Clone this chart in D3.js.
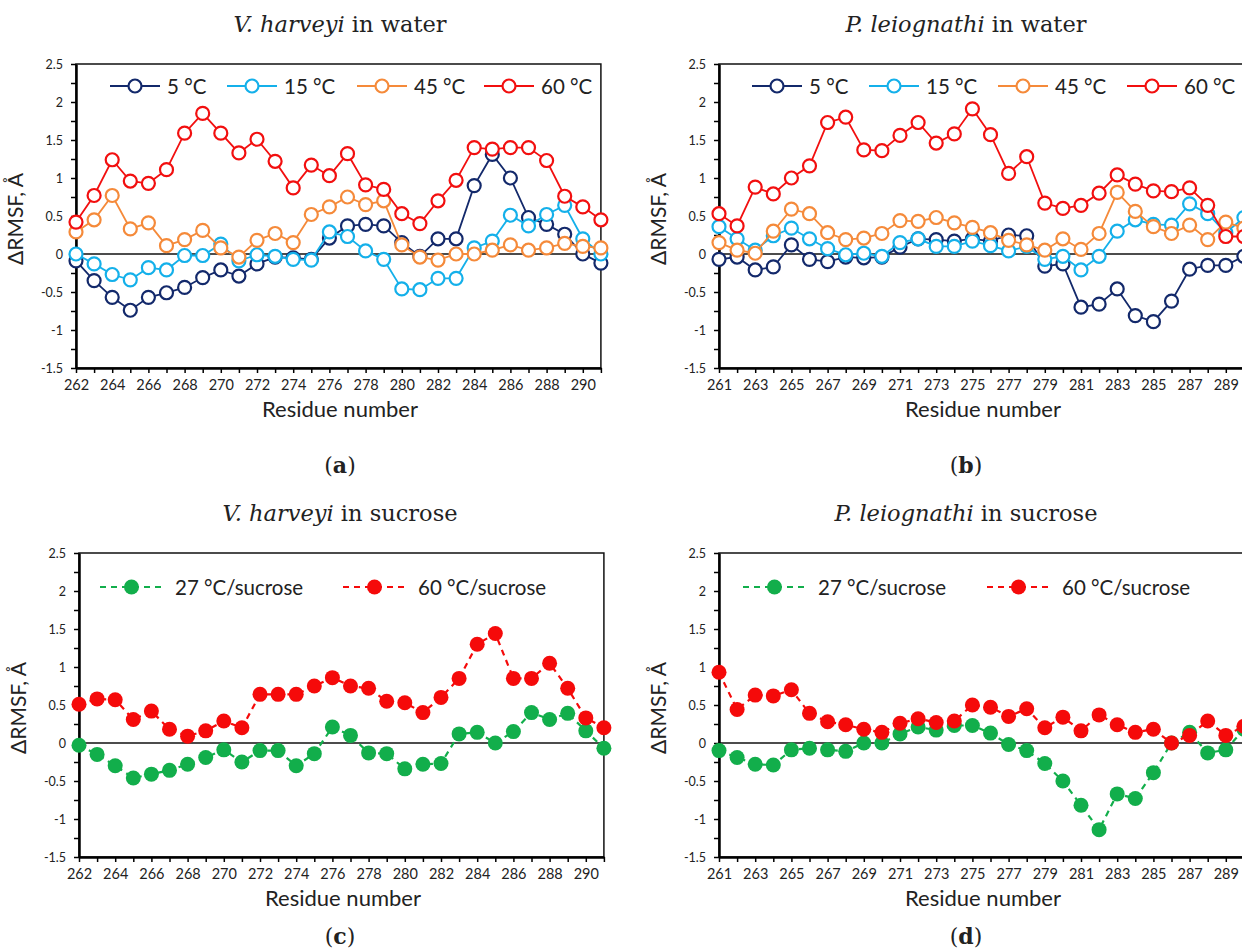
<!DOCTYPE html>
<html lang="en">
<head>
<meta charset="UTF-8" />
<title>ΔRMSF panels</title>
<style>
  body { margin: 0; background: #fff; }
  svg { display: block; }
  .sans { font-family: Lato, "Noto Sans", sans-serif; fill: #222; }
  .serif { font-family: "DejaVu Serif", "Liberation Serif", serif; fill: #222; }
</style>
</head>
<body>
<svg id="chart" width="1242" height="952"></svg>
<script src="https://d3js.org/d3.v7.min.js"></script>
<script>
  // residue numbers
  const residuesVh = [262,263,264,265,266,267,268,269,270,271,272,273,274,275,276,277,278,279,280,281,282,283,284,285,286,287,288,289,290,291];
  const residuesPl = [261,262,263,264,265,266,267,268,269,270,271,272,273,274,275,276,277,278,279,280,281,282,283,284,285,286,287,288,289,290];

  // (a) V. harveyi in water
  const vhWater5  = [-0.09,-0.35,-0.57,-0.74,-0.57,-0.51,-0.44,-0.31,-0.21,-0.29,-0.13,-0.04,-0.05,-0.07,0.21,0.37,0.39,0.37,0.15,-0.03,0.20,0.20,0.90,1.31,1.00,0.48,0.39,0.26,0.00,-0.12];
  const vhWater15 = [0.00,-0.13,-0.27,-0.34,-0.18,-0.21,-0.02,-0.02,0.13,-0.09,-0.01,-0.03,-0.07,-0.08,0.29,0.23,0.04,-0.07,-0.46,-0.47,-0.32,-0.32,0.08,0.17,0.51,0.37,0.52,0.64,0.20,0.00];
  const vhWater45 = [0.29,0.45,0.77,0.33,0.41,0.11,0.19,0.31,0.08,-0.04,0.18,0.27,0.15,0.52,0.62,0.75,0.65,0.70,0.12,-0.04,-0.08,0.00,0.00,0.05,0.12,0.05,0.08,0.14,0.10,0.08];
  const vhWater60 = [0.42,0.77,1.24,0.96,0.93,1.11,1.59,1.85,1.59,1.33,1.51,1.22,0.87,1.17,1.03,1.32,0.91,0.85,0.53,0.40,0.70,0.97,1.40,1.38,1.40,1.40,1.23,0.76,0.62,0.45];

  // (b) P. leiognathi in water
  const plWater5  = [-0.07,-0.04,-0.21,-0.17,0.12,-0.07,-0.10,-0.04,-0.05,-0.04,0.09,0.20,0.19,0.17,0.20,0.17,0.25,0.24,-0.16,-0.13,-0.70,-0.66,-0.46,-0.81,-0.89,-0.62,-0.20,-0.15,-0.15,-0.03];
  const plWater15 = [0.36,0.20,0.05,0.24,0.34,0.20,0.07,-0.01,0.01,-0.03,0.15,0.20,0.10,0.10,0.17,0.11,0.04,0.10,-0.07,-0.03,-0.21,-0.03,0.30,0.45,0.39,0.38,0.66,0.53,0.28,0.48];
  const plWater45 = [0.15,0.05,0.01,0.30,0.59,0.53,0.28,0.19,0.21,0.27,0.44,0.43,0.48,0.41,0.35,0.28,0.18,0.12,0.05,0.20,0.06,0.27,0.81,0.56,0.36,0.27,0.38,0.19,0.42,0.34];
  const plWater60 = [0.53,0.37,0.88,0.79,1.00,1.16,1.73,1.80,1.37,1.36,1.56,1.73,1.46,1.58,1.91,1.57,1.06,1.28,0.67,0.60,0.64,0.80,1.04,0.92,0.83,0.82,0.87,0.64,0.23,0.23];

  // (c) V. harveyi in sucrose
  const vhSuc27 = [-0.03,-0.15,-0.30,-0.46,-0.41,-0.36,-0.28,-0.19,-0.09,-0.25,-0.10,-0.10,-0.30,-0.14,0.21,0.10,-0.13,-0.14,-0.34,-0.28,-0.27,0.12,0.14,0.00,0.15,0.40,0.31,0.39,0.16,-0.07];
  const vhSuc60 = [0.51,0.58,0.57,0.31,0.42,0.18,0.09,0.16,0.29,0.20,0.64,0.64,0.64,0.75,0.86,0.75,0.72,0.55,0.53,0.40,0.60,0.85,1.30,1.44,0.85,0.85,1.05,0.72,0.33,0.20];

  // (d) P. leiognathi in sucrose
  const plSuc27 = [-0.10,-0.19,-0.28,-0.29,-0.09,-0.07,-0.09,-0.11,0.00,0.00,0.12,0.21,0.17,0.23,0.23,0.13,-0.02,-0.10,-0.27,-0.50,-0.82,-1.14,-0.67,-0.73,-0.39,0.00,0.14,-0.13,-0.09,0.18];
  const plSuc60 = [0.93,0.44,0.63,0.62,0.70,0.39,0.28,0.24,0.18,0.14,0.26,0.32,0.27,0.29,0.50,0.47,0.35,0.45,0.20,0.34,0.16,0.37,0.24,0.14,0.18,0.00,0.10,0.29,0.10,0.22];

  const waterNames = ["5 °C", "15 °C", "45 °C", "60 °C"];
  const sucroseNames = ["27 °C/sucrose", "60 °C/sucrose"];
  const yTickValues = [-1.5, -1, -0.5, 0, 0.5, 1, 1.5, 2, 2.5];
  const yTickLabels = ["-1.5", "-1", "-0.5", "0", "0.5", "1", "1.5", "2", "2.5"];
  const xTicksVh = [262,264,266,268,270,272,274,276,278,280,282,284,286,288,290];
  const xTicksPl = [261,263,265,267,269,271,273,275,277,279,281,283,285,287,289];

  const waterColors = ["#13296B", "#14B0EA", "#F58A3A", "#F20F0F"];
  const sucroseColors = ["#12AE4B", "#F50A0A"];

  const svg = d3.select("#chart");

  function panel(cfg) {
    const x = d3.scaleLinear().domain(cfg.xDomain).range([cfg.left, cfg.left + (cfg.xDomain[1] - cfg.xDomain[0]) * 18.1]);
    const y = d3.scaleLinear().domain([-1.5, 2.5]).range([cfg.top + 304, cfg.top]);
    const g = svg.append("g");

    // frame
    g.append("rect")
      .attr("x", x.range()[0]).attr("y", y.range()[1])
      .attr("width", x.range()[1] - x.range()[0]).attr("height", y.range()[0] - y.range()[1])
      .attr("fill", "none").attr("stroke", "#111").attr("stroke-width", 1.5);

    // zero line
    g.append("line")
      .attr("x1", x.range()[0]).attr("x2", x.range()[1])
      .attr("y1", y(0)).attr("y2", y(0))
      .attr("stroke", "#111").attr("stroke-width", 1.5);

    // y axis
    const yAxis = g.append("g")
      .attr("transform", `translate(${x.range()[0]},0)`)
      .call(d3.axisLeft(y)
        .tickValues(d3.range(-1.5, 2.51, 0.25))
        .tickSize(5).tickSizeOuter(0).tickPadding(8)
        .tickFormat(v => {
          const i = yTickValues.indexOf(+v.toFixed(2));
          return i >= 0 ? yTickLabels[i] : "";
        }));
    yAxis.select(".domain").attr("stroke", "#000").attr("stroke-width", 2.5);
    yAxis.selectAll(".tick line").attr("stroke", "#000").attr("stroke-width", 1.5);
    yAxis.selectAll("text").attr("class", "sans").style("font-size", "12.5px").attr("fill", "#222");

    // x axis
    const allTicks = d3.range(cfg.xDomain[0], cfg.xDomain[1] + 1);
    const xAxis = g.append("g")
      .attr("transform", `translate(0,${y.range()[0]})`)
      .call(d3.axisBottom(x)
        .tickValues(allTicks)
        .tickSize(5).tickSizeOuter(0).tickPadding(7)
        .tickFormat(v => cfg.xTicks.includes(v) ? String(v) : ""));
    xAxis.select(".domain").attr("stroke", "#000").attr("stroke-width", 2.5);
    xAxis.selectAll(".tick line").attr("stroke", "#000").attr("stroke-width", 1.5);
    xAxis.selectAll("text").attr("class", "sans").style("font-size", "14.5px").attr("fill", "#222");

    // axis titles
    g.append("text").attr("class", "sans")
      .attr("x", cfg.left + 264).attr("y", y.range()[0] + 49)
      .attr("text-anchor", "middle").style("font-size", "22px")
      .text("Residue number");
    g.append("text").attr("class", "sans")
      .attr("transform", `translate(${cfg.left - 53},${cfg.top + 155}) rotate(-90)`)
      .attr("text-anchor", "middle").style("font-size", "21px")
      .text("ΔRMSF, Å");

    // chart title
    const title = g.append("text").attr("class", "serif")
      .attr("x", cfg.center).attr("y", cfg.top - 32)
      .attr("text-anchor", "middle").style("font-size", "22.5px");
    title.append("tspan").style("font-style", "italic").text(cfg.species);
    title.append("tspan").text(" " + cfg.medium);

    // panel letter
    const letter = g.append("text").attr("class", "serif")
      .attr("x", cfg.center).attr("y", cfg.letterY)
      .attr("text-anchor", "middle").style("font-size", "22px");
    letter.append("tspan").text("(");
    letter.append("tspan").style("font-weight", "bold").text(cfg.letter);
    letter.append("tspan").text(")");

    // series
    const line = d3.line().x(d => x(d[0])).y(d => y(d[1]));
    cfg.series.forEach((s, k) => {
      const pts = cfg.residues.map((r, i) => [r, s[i]]);
      const sg = g.append("g");
      sg.append("path").datum(pts)
        .attr("d", line).attr("fill", "none")
        .attr("stroke", cfg.colors[k]).attr("stroke-width", cfg.filled ? 2.2 : 1.8)
        .attr("stroke-dasharray", cfg.filled ? "6,5" : null);
      sg.selectAll("circle").data(pts).join("circle")
        .attr("cx", d => x(d[0])).attr("cy", d => y(d[1]))
        .attr("r", cfg.filled ? 7.5 : 6.5)
        .attr("fill", cfg.filled ? cfg.colors[k] : "#fff")
        .attr("stroke", cfg.filled ? "none" : cfg.colors[k])
        .attr("stroke-width", 2.2);
    });

    // legend
    cfg.names.forEach((name, k) => {
      const lx = cfg.legendX[k];
      const ly = cfg.legendY;
      const len = cfg.filled ? 63 : 50;
      const lg = g.append("g");
      lg.append("line")
        .attr("x1", lx).attr("x2", lx + len).attr("y1", ly).attr("y2", ly)
        .attr("stroke", cfg.colors[k]).attr("stroke-width", cfg.filled ? 2.2 : 1.8)
        .attr("stroke-dasharray", cfg.filled ? "6,5" : null);
      lg.append("circle")
        .attr("cx", lx + len / 2).attr("cy", ly)
        .attr("r", cfg.filled ? 7.5 : 6.5)
        .attr("fill", cfg.filled ? cfg.colors[k] : "#fff")
        .attr("stroke", cfg.filled ? "none" : cfg.colors[k])
        .attr("stroke-width", 2.2);
      lg.append("text").attr("class", "sans")
        .attr("x", lx + len + (cfg.filled ? 12 : 7)).attr("y", ly + 7.5)
        .style("font-size", "20.5px")
        .text(name);
    });
  }

  panel({
    left: 76, top: 64, xDomain: [262, 291], xTicks: xTicksVh, residues: residuesVh,
    series: [vhWater5, vhWater15, vhWater45, vhWater60], names: waterNames, colors: waterColors,
    filled: false, legendX: [110, 227, 357, 484], legendY: 86,
    species: "V. harveyi", medium: "in water", center: 340, letter: "a", letterY: 473
  });
  panel({
    left: 719, top: 64, xDomain: [261, 291], xTicks: xTicksPl, residues: residuesPl,
    series: [plWater5, plWater15, plWater45, plWater60], names: waterNames, colors: waterColors,
    filled: false, legendX: [752, 869, 998, 1127], legendY: 86,
    species: "P. leiognathi", medium: "in water", center: 966, letter: "b", letterY: 473
  });
  panel({
    left: 79, top: 553, xDomain: [262, 291], xTicks: xTicksVh, residues: residuesVh,
    series: [vhSuc27, vhSuc60], names: sucroseNames, colors: sucroseColors,
    filled: true, legendX: [100, 343], legendY: 587,
    species: "V. harveyi", medium: "in sucrose", center: 340, letter: "c", letterY: 944
  });
  panel({
    left: 719, top: 553, xDomain: [261, 291], xTicks: xTicksPl, residues: residuesPl,
    series: [plSuc27, plSuc60], names: sucroseNames, colors: sucroseColors,
    filled: true, legendX: [743, 987], legendY: 587,
    species: "P. leiognathi", medium: "in sucrose", center: 966, letter: "d", letterY: 944
  });
</script>
</body>
</html>
